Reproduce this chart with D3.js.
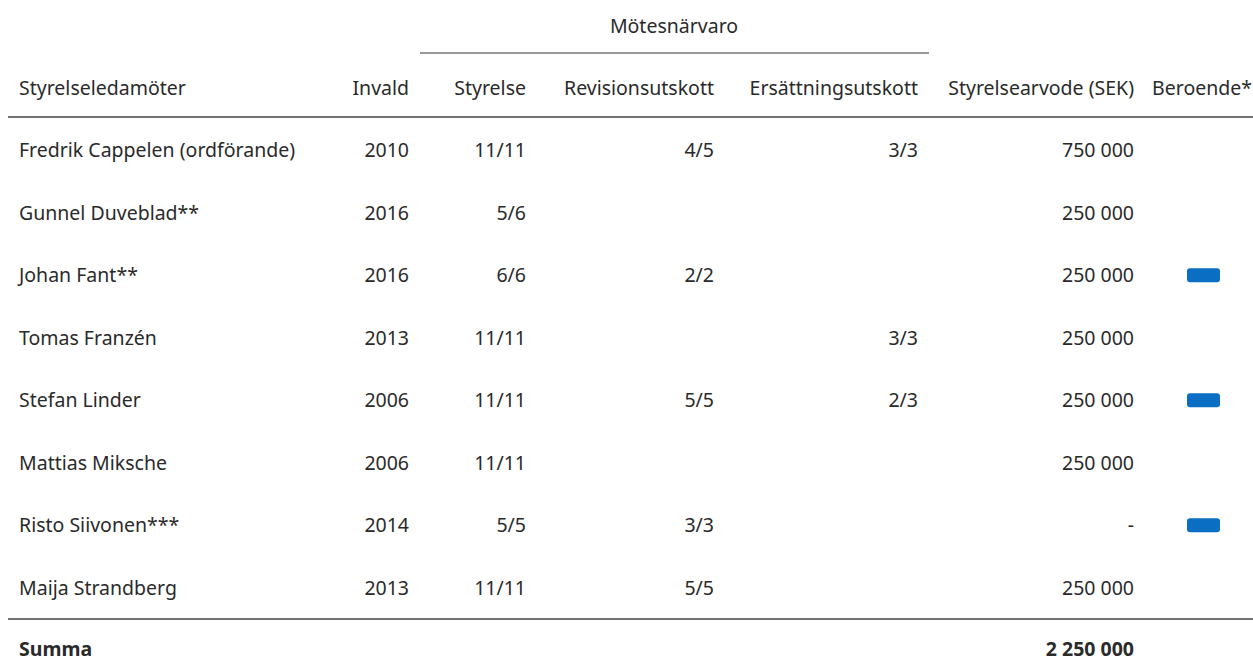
<!DOCTYPE html>
<head>
<meta charset="utf-8">
<style>
  body { margin: 0; background: #fff; }
  text { font-family: "Noto Sans", sans-serif; font-size: 19.5px; fill: #2a2a2a; }
</style>
</head>
<body>
<div id="table"></div>
<script src="https://d3js.org/d3.v7.min.js"></script>
<script>

// data
var headers = ["Styrelseledamöter", "Invald", "Styrelse", "Revisionsutskott", "Ersättningsutskott", "Styrelsearvode (SEK)", "Beroende*"];
var groupHeader = "Mötesnärvaro";
var names = ["Fredrik Cappelen (ordförande)", "Gunnel Duveblad**", "Johan Fant**", "Tomas Franzén", "Stefan Linder", "Mattias Miksche", "Risto Siivonen***", "Maija Strandberg"];
var invald = ["2010", "2016", "2016", "2013", "2006", "2006", "2014", "2013"];
var styrelse = ["11/11", "5/6", "6/6", "11/11", "11/11", "11/11", "5/5", "11/11"];
var revision = ["4/5", "", "2/2", "", "5/5", "", "3/3", "5/5"];
var ersattning = ["3/3", "", "", "3/3", "2/3", "", "", ""];
var arvode = ["750 000", "250 000", "250 000", "250 000", "250 000", "250 000", "-", "250 000"];
var beroende = [false, false, true, false, true, false, true, false];
var summaLabel = "Summa";
var summaValue = "2 250 000";

var width = 1253, height = 662;

var svg = d3.select("#table").append("svg")
    .attr("width", width)
    .attr("height", height);

// row scale
var y = d3.scaleBand()
    .domain(d3.range(names.length))
    .range([119, 619]);

// column right edges (first column is left aligned)
var cols = [
  {x: 19, anchor: "start", values: names},
  {x: 409, anchor: "end", values: invald},
  {x: 526, anchor: "end", values: styrelse},
  {x: 714, anchor: "end", values: revision},
  {x: 918, anchor: "end", values: ersattning},
  {x: 1134, anchor: "end", values: arvode}
];

// headers
svg.append("text")
    .attr("x", 674).attr("y", 26)
    .attr("dy", "0.35em")
    .attr("text-anchor", "middle")
    .text(groupHeader);

svg.append("line")
    .attr("x1", 420).attr("x2", 929)
    .attr("y1", 53).attr("y2", 53)
    .attr("stroke", "#333").attr("stroke-width", 1.2);

headers.forEach(function(h, i) {
  svg.append("text")
    .attr("x", i < cols.length ? cols[i].x : 1252)
    .attr("y", 88)
    .attr("dy", "0.35em")
    .attr("text-anchor", i === 0 ? "start" : "end")
    .text(h);
});

svg.append("line")
    .attr("x1", 8).attr("x2", width)
    .attr("y1", 117).attr("y2", 117)
    .attr("stroke", "#444").attr("stroke-width", 1.5);

// cells
cols.forEach(function(c) {
  svg.append("g").selectAll("text")
    .data(c.values)
    .enter().append("text")
      .attr("x", c.x)
      .attr("y", function(d, i) { return y(i) + y.bandwidth() / 2; })
      .attr("dy", "0.35em")
      .attr("text-anchor", c.anchor)
      .text(function(d) { return d; });
});

// blue markers
svg.append("g").selectAll("rect")
  .data(beroende.map(function(b, i) { return {b: b, i: i}; }).filter(function(d) { return d.b; }))
  .enter().append("rect")
    .attr("x", 1187)
    .attr("y", function(d) { return y(d.i) + y.bandwidth() / 2 - 7; })
    .attr("width", 33)
    .attr("height", 14)
    .attr("rx", 3)
    .attr("fill", "#0a6fc2");

svg.append("line")
    .attr("x1", 8).attr("x2", width)
    .attr("y1", 619).attr("y2", 619)
    .attr("stroke", "#444").attr("stroke-width", 1.5);

// sum row
svg.append("text")
    .attr("x", 19).attr("y", 656)
    .style("font-weight", "bold")
    .text(summaLabel);

svg.append("text")
    .attr("x", 1134).attr("y", 656)
    .attr("text-anchor", "end")
    .style("font-weight", "bold")
    .text(summaValue);

</script>
</body>
